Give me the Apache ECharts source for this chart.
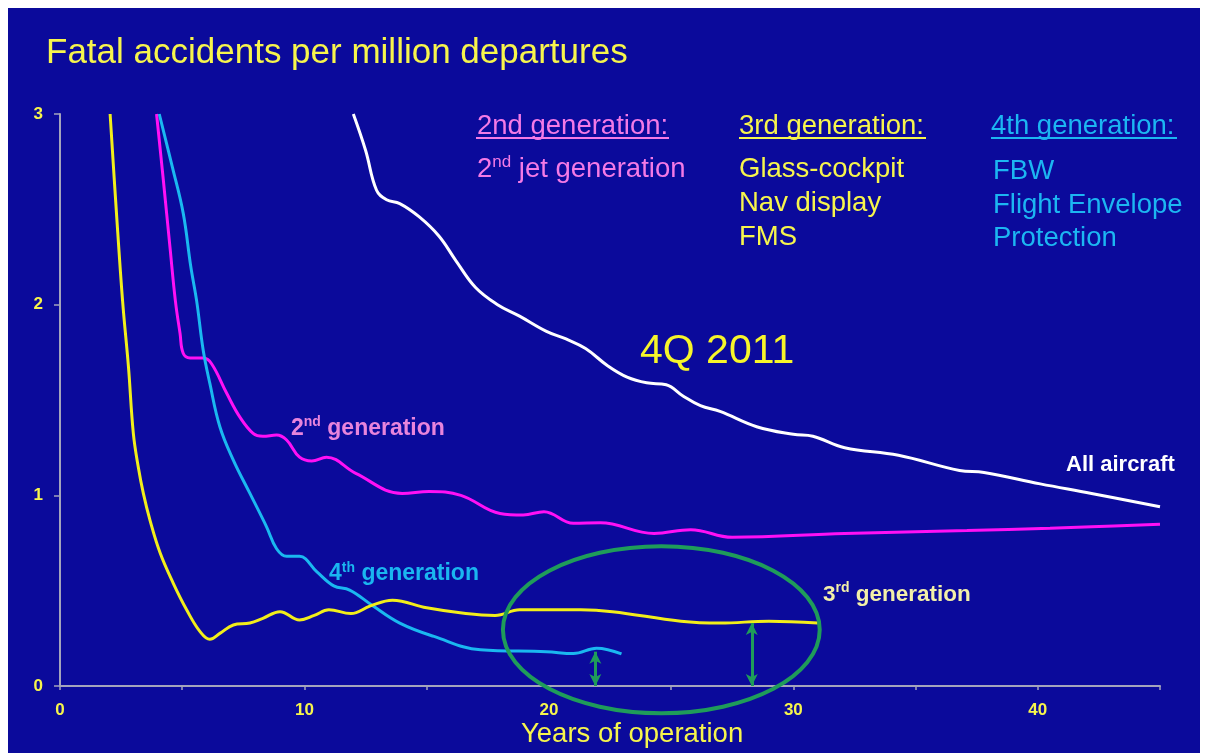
<!DOCTYPE html>
<html>
<head>
<meta charset="utf-8">
<title>Fatal accidents per million departures</title>
<script src="https://cdn.jsdelivr.net/npm/echarts@6/dist/echarts.min.js"></script>
<style>
  html, body { margin: 0; padding: 0; background: #fff; }
  #main { position: absolute; left: 8px; top: 8px; width: 1192px; height: 745px; }
</style>
</head>
<body>
<div id="main"></div>
<script>
// years of operation -> fatal accidents per million departures
var allYears = [12.0, 12.5, 12.95, 13.36, 13.9, 14.7, 15.5, 16.2, 17.0, 17.9, 18.8, 19.9, 20.7, 21.5, 22.4, 23.2, 24.0, 24.8, 25.5, 26.2, 27.0, 28.5, 30.0, 30.8, 32.1, 34.3, 36.8, 37.8, 40.1, 42.2, 45.0];
var allRate  = [3.0, 2.81, 2.6, 2.55, 2.53, 2.46, 2.36, 2.23, 2.09, 2.0, 1.94, 1.86, 1.82, 1.77, 1.68, 1.62, 1.59, 1.58, 1.52, 1.47, 1.44, 1.36, 1.32, 1.31, 1.25, 1.21, 1.13, 1.12, 1.06, 1.01, 0.94];

var gen2Years = [3.95, 4.23, 4.5, 4.72, 4.91, 5.04, 5.32, 5.86, 6.2, 6.82, 7.36, 7.9, 8.3, 8.86, 9.27, 9.8, 10.3, 10.9, 12.1, 14.0, 15.1, 16.4, 18.0, 18.95, 19.8, 21.0, 22.1, 24.3, 25.8, 27.5, 32.1, 37.1, 40.5, 42.2, 45.0];
var gen2Rate  = [3.0, 2.65, 2.3, 2.02, 1.85, 1.745, 1.72, 1.72, 1.69, 1.535, 1.41, 1.325, 1.31, 1.316, 1.29, 1.2, 1.18, 1.2, 1.115, 1.01, 1.02, 1.0, 0.905, 0.897, 0.914, 0.853, 0.856, 0.8, 0.82, 0.78, 0.8, 0.815, 0.827, 0.835, 0.848];

var gen3Years = [2.05, 2.3, 2.56, 2.8, 3.0, 3.2, 3.41, 3.68, 4.09, 4.63, 5.18, 5.73, 6.13, 6.54, 7.09, 7.77, 8.3, 9.0, 9.8, 10.4, 11.0, 11.9, 12.7, 13.6, 15.0, 16.6, 17.8, 18.8, 21.3, 22.6, 25.4, 27.0, 29.0, 31.0];
var gen3Rate  = [3.0, 2.5, 2.02, 1.675, 1.325, 1.15, 1.01, 0.87, 0.7, 0.54, 0.4, 0.285, 0.245, 0.276, 0.32, 0.33, 0.355, 0.39, 0.346, 0.37, 0.4, 0.38, 0.42, 0.45, 0.41, 0.38, 0.37, 0.4, 0.4, 0.39, 0.34, 0.33, 0.34, 0.33];

var gen4Years = [4.06, 4.6, 5.04, 5.35, 5.59, 5.86, 6.13, 6.54, 7.09, 7.77, 8.45, 8.86, 9.27, 9.8, 10.5, 11.2, 11.85, 12.75, 13.9, 15.3, 17.2, 19.9, 21.0, 21.95, 22.97];
var gen4Rate  = [3.0, 2.72, 2.48, 2.2, 2.02, 1.76, 1.587, 1.36, 1.185, 1.01, 0.835, 0.72, 0.68, 0.68, 0.6, 0.525, 0.503, 0.425, 0.33, 0.26, 0.19, 0.18, 0.17, 0.198, 0.168];

// gap arrows (year, top value)
var arrowYears = [21.9, 28.3];
var arrowTops  = [0.18, 0.33];

// highlighted region (centre and radii in axis units)
var ringCenter = [24.6, 0.295];
var ringRadius = [6.48, 0.438];

function pairs(xs, ys) {
  return xs.map(function (x, i) { return [x, ys[i]]; });
}

var FONT = 'Liberation Sans, Arial, sans-serif';
var GREEN = '#1f9c5a';

function label(text, left, top, size, color, opts) {
  opts = opts || {};
  return {
    text: text, left: left, top: top, padding: 0,
    textStyle: {
      color: color, fontSize: size, fontFamily: FONT,
      fontWeight: opts.bold ? 'bold' : 'normal',
      lineHeight: opts.lh || size + 4,
      rich: {
        sup: { color: color, fontSize: Math.round(size * 0.6), fontFamily: FONT,
               fontWeight: opts.bold ? 'bold' : 'normal',
               verticalAlign: 'top', lineHeight: Math.round(size * 0.8) }
      }
    }
  };
}

var myChart = echarts.init(document.getElementById('main'));

var arrowLines = arrowYears.map(function (x, i) {
  return [{ coord: [x, 0] }, { coord: [x, arrowTops[i]] }];
});

var option = {
  animation: false,
  backgroundColor: '#0b0a9b',
  title: [
    label('Fatal accidents per million departures', 38, 25.5, 35, '#f7f54c', { lh: 40 }),
    label('2nd generation:', 469, 103, 27.5, '#f47ae6', { lh: 30 }),
    label('3rd generation:', 731, 103, 27.5, '#f7f54c', { lh: 30 }),
    label('4th generation:', 983, 103, 27.5, '#1cb6f2', { lh: 30 }),
    label('2{sup|nd} jet generation', 469, 146, 27.5, '#f47ae6', { lh: 30 }),
    label('Glass-cockpit\nNav display\nFMS', 731, 145, 27.5, '#f7f54c', { lh: 33.7 }),
    label('FBW\nFlight Envelope\nProtection', 985, 146.5, 27.5, '#1cb6f2', { lh: 33.7 }),
    label('4Q 2011', 632, 322, 41, '#f7f52a', { lh: 44 }),
    label('2{sup|nd} generation', 283, 407.5, 23, '#e884dc', { bold: true, lh: 26 }),
    label('All aircraft', 1058, 444, 22, '#ffffff', { bold: true, lh: 26 }),
    label('4{sup|th} generation', 321, 553, 23, '#1ab6f0', { bold: true, lh: 26 }),
    label('3{sup|rd} generation', 815, 573.5, 22.5, '#f3f0a8', { bold: true, lh: 26 }),
    label('Years of operation', 513, 711, 27.5, '#f7f54c', { lh: 30 })
  ],
  graphic: [
    { type: 'line', shape: { x1: 468, y1: 130, x2: 661, y2: 130 }, style: { stroke: '#f47ae6', lineWidth: 2 } },
    { type: 'line', shape: { x1: 731, y1: 130, x2: 918, y2: 130 }, style: { stroke: '#f7f54c', lineWidth: 2 } },
    { type: 'line', shape: { x1: 983, y1: 130, x2: 1169, y2: 130 }, style: { stroke: '#1cb6f2', lineWidth: 2 } }
  ],
  grid: { left: 52, right: 40, top: 106, bottom: 67 },
  xAxis: {
    type: 'value', min: 0, max: 45, interval: 5,
    axisLine: { show: true, lineStyle: { color: '#a4a4bc', width: 2 } },
    axisTick: { show: true, length: 4, lineStyle: { color: '#a4a4bc', width: 1.5 } },
    splitLine: { show: false },
    axisLabel: {
      color: '#f7f54c', fontSize: 17, fontWeight: 'bold', fontFamily: FONT, margin: 16,
      formatter: function (v) { return v % 10 === 0 ? String(v) : ''; }
    }
  },
  yAxis: {
    type: 'value', min: 0, max: 3, interval: 1,
    axisLine: { show: true, lineStyle: { color: '#a4a4bc', width: 2 } },
    axisTick: { show: true, length: 6, lineStyle: { color: '#a4a4bc', width: 1.5 } },
    splitLine: { show: false },
    axisLabel: { color: '#f7f54c', fontSize: 17, fontWeight: 'bold', fontFamily: FONT, margin: 17 }
  },
  series: [
    { name: 'All aircraft', type: 'line', smooth: 0.4, symbol: 'none',
      lineStyle: { color: '#ffffff', width: 3 }, data: pairs(allYears, allRate) },
    { name: '2nd generation', type: 'line', smooth: 0.4, symbol: 'none',
      lineStyle: { color: '#ff10f5', width: 3 }, data: pairs(gen2Years, gen2Rate) },
    { name: '4th generation', type: 'line', smooth: 0.4, symbol: 'none',
      lineStyle: { color: '#1ab8f0', width: 3 }, data: pairs(gen4Years, gen4Rate) },
    { name: '3rd generation', type: 'line', smooth: 0.4, symbol: 'none',
      lineStyle: { color: '#f2ee1a', width: 3 }, data: pairs(gen3Years, gen3Rate),
      markLine: {
        silent: true, symbol: ['arrow', 'arrow'], symbolSize: [9, 12],
        label: { show: false },
        lineStyle: { color: GREEN, width: 3, type: 'solid' },
        data: arrowLines
      }
    }
  ]
};

myChart.setOption(option);

// ring around the late-life part of the curves, placed through the axes
var c = myChart.convertToPixel({ gridIndex: 0 }, ringCenter);
var e = myChart.convertToPixel({ gridIndex: 0 }, [ringCenter[0] + ringRadius[0], ringCenter[1] + ringRadius[1]]);
myChart.setOption({
  graphic: option.graphic.concat([{
    type: 'ellipse', z: 10,
    shape: { cx: c[0], cy: c[1], rx: Math.abs(e[0] - c[0]), ry: Math.abs(c[1] - e[1]) },
    style: { fill: 'none', stroke: GREEN, lineWidth: 4 }
  }])
});
</script>
</body>
</html>
